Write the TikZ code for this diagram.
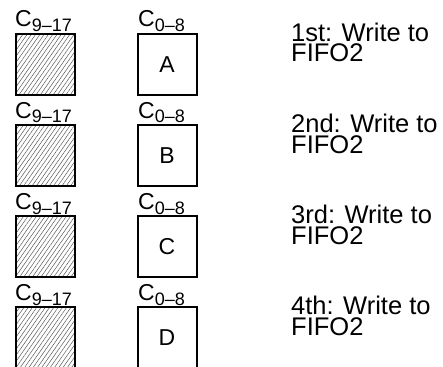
\documentclass[tikz,border=0pt]{standalone}
\usepackage{fontspec}
\setmainfont{Liberation Sans}
\usetikzlibrary{patterns.meta}
\tikzset{
  slot/.style={draw, line width=2pt, minimum width=59pt, minimum height=61pt, inner sep=0pt, font=\fontsize{23}{23}\selectfont},
  hatched/.style={slot, pattern={Lines[angle=55, distance=3.5pt, line width=.45pt]}, pattern color=black!70},
  clabel/.style={anchor=base west, inner sep=0pt, font=\fontsize{23}{23}\selectfont},
  note/.style={anchor=base west, inner sep=0pt, align=left, font=\fontsize{25.5}{20.5}\selectfont}
}
\newcommand{\csub}[1]{C\raisebox{-5pt}{\fontsize{18}{18}\selectfont #1}}

\begin{document}
\begin{tikzpicture}[x=1pt, y=-1pt]
    \useasboundingbox (0,0) rectangle (443,366);
    \foreach \i/\l/\n in {0/A/1st, 1/B/2nd, 2/C/3rd, 3/D/4th}{
        \node[clabel] (hi\l) at (15, {27+91*\i}) {\csub{9–17}};
        \node[clabel] (lo\l) at (138, {27+91*\i}) {\csub{0–8}};
        \node[hatched] (h\l) at (45.5, {64.5+91*\i}) {};
        \node[slot] (b\l) at (167, {64.5+91*\i}) {\l};
        \node[note] (n\l) at (291, {62+91*\i}) {\n: Write to\\FIFO2};
    }
\end{tikzpicture}
\end{document}
